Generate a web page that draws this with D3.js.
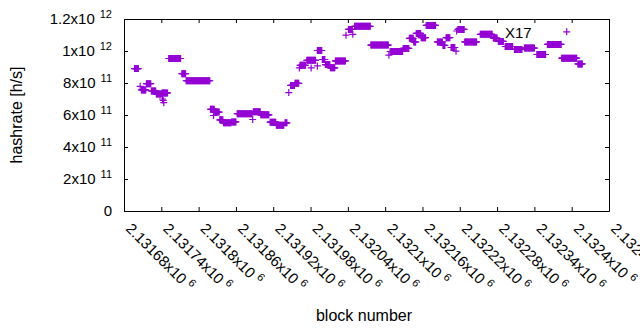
<!DOCTYPE html>
<html>
<head>
    <title>Hashrate per block</title>
</head>
<style>
body { margin: 0; background: #fff; }
text { font-family: "Liberation Sans", Arial, sans-serif; }
</style>
<body>

<script src="https://cdn.jsdelivr.net/npm/d3@7/dist/d3.min.js"></script>
<script>

// hashrate estimate stays flat over runs of blocks: one entry per run
var runStart = [2131697, 2131706, 2131708, 2131716, 2131724, 2131732, 2131741, 2131742, 2131743, 2131744,
                2131752, 2131773, 2131780, 2131819, 2131824, 2131826, 2131834, 2131840, 2131853, 2131862,
                2131887, 2131888, 2131900, 2131915, 2131925, 2131939, 2131945, 2131948, 2131955, 2131962,
                2131963, 2131974, 2131981, 2131991, 2131991, 2131999, 2132004, 2132012, 2132020, 2132037,
                2132041, 2132048, 2132051, 2132077, 2132106, 2132108, 2132129, 2132139, 2132146, 2132150,
                2132158, 2132166, 2132184, 2132193, 2132198, 2132206, 2132214, 2132215, 2132217, 2132228,
                2132253, 2132274, 2132282, 2132293, 2132308, 2132324, 2132344, 2132361, 2132392, 2132384,
                2132410];
var runEnd   = [2131703, 2131706, 2131715, 2131723, 2131731, 2131740, 2131750, 2131742, 2131743, 2131744,
                2131771, 2131779, 2131818, 2131825, 2131824, 2131833, 2131839, 2131852, 2131860, 2131886,
                2131887, 2131899, 2131913, 2131924, 2131937, 2131942, 2131945, 2131954, 2131961, 2131962,
                2131972, 2131988, 2131981, 2131991, 2131998, 2132003, 2132011, 2132019, 2132036, 2132037,
                2132047, 2132048, 2132076, 2132105, 2132106, 2132128, 2132138, 2132145, 2132149, 2132157,
                2132165, 2132181, 2132192, 2132196, 2132204, 2132212, 2132214, 2132215, 2132227, 2132247,
                2132272, 2132280, 2132290, 2132305, 2132320, 2132340, 2132358, 2132383, 2132392, 2132408,
                2132417];
var runRate  = [8.90e11, 7.79e11, 7.57e11, 7.96e11, 7.50e11, 7.31e11, 7.38e11, 7.00e11, 6.91e11, 6.77e11,
                9.53e11, 8.58e11, 8.14e11, 6.36e11, 5.97e11, 6.18e11, 5.70e11, 5.51e11, 5.57e11, 6.08e11,
                5.72e11, 6.20e11, 6.01e11, 5.55e11, 5.36e11, 5.51e11, 7.40e11, 7.85e11, 7.98e11, 8.94e11,
                9.11e11, 9.42e11, 8.94e11, 9.07e11, 1.003e12, 9.47e11, 9.15e11, 8.95e11, 9.38e11, 1.099e12,
                1.135e12, 1.104e12, 1.154e12, 1.037e12, 9.74e11, 9.97e11, 1.016e12, 1.079e12, 1.057e12, 1.110e12,
                1.083e12, 1.160e12, 1.057e12, 1.035e12, 1.083e12, 1.022e12, 9.99e11, 1.125e12, 1.135e12, 1.057e12,
                1.104e12, 1.081e12, 1.060e12, 1.028e12, 1.010e12, 1.018e12, 9.78e11, 1.041e12, 1.12e12, 9.55e11,
                9.19e11];

var xTicks = [2131680, 2131740, 2131800, 2131860, 2131920, 2131980, 2132040,
              2132100, 2132160, 2132220, 2132280, 2132340, 2132400, 2132460];
var yTicks = [0, 2e11, 4e11, 6e11, 8e11, 1e12, 1.2e12];

var annotation = "X17";

var w = 640;
var h = 330;
// plot frame (window.top is reserved, so prefixed names)
var pLeft = 124, pRight = 609, pTop = 19, pBottom = 211;
var purple = "#9400d3";

// one point per block inside each run
var points = [];
for (var i = 0; i < runStart.length; i++) {
    for (var b = runStart[i]; b <= runEnd[i]; b++) {
        points.push([b, runRate[i]]);
    }
}

var xScale = d3.scaleLinear()
                 .domain([xTicks[0], xTicks[xTicks.length - 1]])
                 .range([pLeft, pRight]);
var yScale = d3.scaleLinear()
                 .domain([0, 1.2e12])
                 .range([pBottom, pTop]);

var svg = d3.select("body").append("svg")
            .attr("width", w)
            .attr("height", h);

// mantissa x10 with superscript exponent, gnuplot style
function sciLabel(sel, v, supDx) {
    sel.text(null);
    if (v === 0) { sel.text("0"); return; }
    var e = Math.floor(Math.log10(v) + 1e-9);
    var m = +(v / Math.pow(10, e)).toPrecision(6);
    sel.append("tspan").text(m + "x10");
    sel.append("tspan")
        .attr("dx", supDx)
        .attr("dy", -6)
        .attr("font-size", "11px")
        .text(e);
}

var yAxis = svg.append("g")
    .attr("transform", "translate(" + pLeft + ",0)")
    .call(d3.axisLeft(yScale).tickValues(yTicks).tickSizeInner(-4).tickSizeOuter(0).tickPadding(12).tickFormat(""));
yAxis.selectAll(".tick text")
    .attr("font-size", "15px")
    .attr("fill", "#000")
    .each(function(d) { sciLabel(d3.select(this), d, 5); });

svg.append("g")
    .attr("transform", "translate(" + pRight + ",0)")
    .call(d3.axisRight(yScale).tickValues(yTicks).tickSizeInner(-4).tickSizeOuter(0).tickFormat(""));

var xAxis = svg.append("g")
    .attr("transform", "translate(0," + pBottom + ")")
    .call(d3.axisBottom(xScale).tickValues(xTicks).tickSizeInner(-4).tickSizeOuter(0).tickFormat(""));
xAxis.selectAll(".tick text")
    .attr("font-size", "15px")
    .attr("fill", "#000")
    .attr("text-anchor", "start")
    .attr("x", null)
    .attr("y", null)
    .attr("dy", null)
    .attr("transform", "translate(0.5,18.5) rotate(45)")
    .each(function(d) { sciLabel(d3.select(this), d, 4); });

svg.append("g")
    .attr("transform", "translate(0," + pTop + ")")
    .call(d3.axisTop(xScale).tickValues(xTicks).tickSizeInner(-4).tickSizeOuter(0).tickFormat(""));

svg.selectAll(".domain, .tick line").attr("stroke", "#000");

// crosshair marks
svg.append("g").selectAll("path")
    .data(points)
    .enter()
    .append("path")
    .attr("transform", function(d) {
        return "translate(" + xScale(d[0]) + "," + yScale(d[1]) + ")";
    })
    .attr("d", "M-3.5,0H3.5M0,-3.5V3.5")
    .attr("stroke", purple)
    .attr("stroke-width", 1.2)
    .attr("fill", "none");

svg.append("text")
    .attr("x", 505)
    .attr("y", 37.5)
    .attr("font-size", "15px")
    .text(annotation);

svg.append("text")
    .attr("transform", "translate(22," + (pTop + pBottom) / 2 + ") rotate(-90)")
    .attr("text-anchor", "middle")
    .attr("font-size", "16px")
    .text("hashrate [h/s]");

svg.append("text")
    .attr("x", 364)
    .attr("y", 321)
    .attr("text-anchor", "middle")
    .attr("font-size", "16px")
    .text("block number");

</script>
</body>
</html>
